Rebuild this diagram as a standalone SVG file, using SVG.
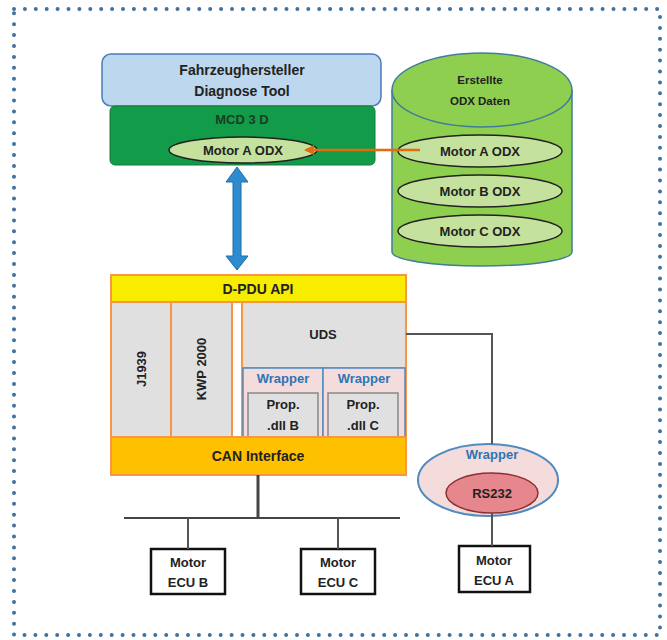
<svg xmlns="http://www.w3.org/2000/svg" width="667" height="640" viewBox="0 0 667 640">
<defs>
<style>
text{font-family:"Liberation Sans",Arial,sans-serif;font-weight:bold;fill:#222;text-anchor:middle}
.t14{font-size:14px}
.t13{font-size:13px}
.t12{font-size:12px}
.t11{font-size:11.5px}
.blue{fill:#2e75b6}
.col{fill:#e0e0e0;stroke:#f79646;stroke-width:2}
.ell{fill:#c4e29e;stroke:#222;stroke-width:1.5}
.wrap{fill:#f4dcdc;stroke:#4f8ac0;stroke-width:1.5}
.prop{fill:#e0e0e0;stroke:#888;stroke-width:1.5}
.ecu{fill:#fff;stroke:#111;stroke-width:2.5}
.line{stroke:#555;stroke-width:2;fill:none}
</style>
<marker id="oarr" markerWidth="10" markerHeight="10" refX="8" refY="5" orient="auto" markerUnits="userSpaceOnUse"><path d="M0,0 L10,5 L0,10 Z" fill="#e46c0a"/></marker>
</defs>
<rect x="14" y="9" width="646" height="626" fill="none" stroke="#41719c" stroke-width="4" stroke-linecap="round" stroke-dasharray="0 10.9"/>

<g id="diag-tool">
<rect x="102" y="54" width="279" height="52" rx="9" fill="#bdd7ee" stroke="#4a7ebb" stroke-width="1.5"/>
<text class="t14" x="242" y="75">Fahrzeughersteller</text>
<text class="t14" x="242" y="96">Diagnose Tool</text>
</g>
<g id="mcd3d">
<rect x="110" y="106" width="265" height="59" rx="5" fill="#129b48" stroke="#177a3c" stroke-width="1"/>
<text class="t13" x="242" y="124" style="fill:#1b3d22">MCD 3 D</text>
<ellipse class="ell" cx="243" cy="150" rx="74" ry="13"/>
<text class="t13" x="243" y="155">Motor A ODX</text>
</g>

<g id="odx-db">
<path d="M392,90 L392,252 A90,14 0 0 0 572,252 L572,90" fill="#8fcf4f" stroke="#3f7d9a" stroke-width="1.5"/>
<ellipse cx="482" cy="90" rx="90" ry="37" fill="#8fcf4f" stroke="#3f7d9a" stroke-width="1.5"/>
<text class="t11" x="480" y="84">Erstellte</text>
<text class="t11" x="480" y="105">ODX Daten</text>
<ellipse class="ell" cx="480" cy="151" rx="82" ry="16"/>
<text class="t13" x="480" y="156">Motor A ODX</text>
<ellipse class="ell" cx="480" cy="191" rx="82" ry="16"/>
<text class="t13" x="480" y="196">Motor B ODX</text>
<ellipse class="ell" cx="480" cy="231" rx="82" ry="16"/>
<text class="t13" x="480" y="236">Motor C ODX</text>
</g>

<g id="dpdu">
<rect x="111" y="275" width="295" height="200" fill="#fff" stroke="#f79646" stroke-width="2"/>
<rect x="111" y="275" width="295" height="27" fill="#f8ec00" stroke="#f79646" stroke-width="2"/>
<text class="t14" x="258" y="294">D-PDU API</text>
<rect class="col" x="111" y="302" width="60" height="135"/>
<text class="t13" transform="translate(146,369) rotate(-90)">J1939</text>
<rect class="col" x="171" y="302" width="61" height="135"/>
<text class="t13" transform="translate(206,369) rotate(-90)">KWP 2000</text>
<rect x="232" y="302" width="10" height="135" fill="#fff" stroke="#f79646" stroke-width="2"/>
<rect class="col" x="242" y="302" width="164" height="66"/>
<text class="t13" x="323" y="339">UDS</text>
<rect class="wrap" x="243" y="368" width="80" height="69"/>
<text class="t13 blue" x="283" y="383">Wrapper</text>
<rect class="prop" x="248" y="393" width="70" height="44"/>
<text class="t13" x="283" y="409">Prop.</text>
<text class="t13" x="283" y="430">.dll B</text>
<rect class="wrap" x="323" y="368" width="82" height="69"/>
<text class="t13 blue" x="364" y="383">Wrapper</text>
<rect class="prop" x="328" y="393" width="70" height="44"/>
<text class="t13" x="363" y="409">Prop.</text>
<text class="t13" x="363" y="430">.dll C</text>
<rect x="111" y="437" width="295" height="38" fill="#ffc000" stroke="#f79646" stroke-width="2"/>
<text class="t14" x="258" y="461">CAN Interface</text>
</g>

<g id="wrapper-rs232">
<ellipse cx="488" cy="480" rx="70" ry="36" fill="#f4dcdc" stroke="#4f8ac0" stroke-width="2"/>
<text class="t13 blue" x="492" y="459">Wrapper</text>
<ellipse cx="492" cy="493" rx="46" ry="20" fill="#e5878c" stroke="#8c2f33" stroke-width="1.5"/>
<text class="t13" x="492" y="498">RS232</text>
</g>

<g id="ecu-a">
<rect class="ecu" x="459" y="546" width="71" height="46"/>
<text class="t13" x="494" y="565">Motor</text>
<text class="t13" x="494" y="585">ECU A</text>
</g>
<g id="ecu-b">
<rect class="ecu" x="151" y="549" width="74" height="45"/>
<text class="t13" x="188" y="567">Motor</text>
<text class="t13" x="188" y="587">ECU B</text>
</g>
<g id="ecu-c">
<rect class="ecu" x="301" y="549" width="74" height="45"/>
<text class="t13" x="338" y="567">Motor</text>
<text class="t13" x="338" y="587">ECU C</text>
</g>

<g id="connectors">
<line x1="420" y1="150" x2="306" y2="150" stroke="#e46c0a" stroke-width="2.5" marker-end="url(#oarr)"/>
<path d="M237,167 L248,182 L241,182 L241,256 L248,256 L237,270 L226,256 L233,256 L233,182 L226,182 Z" fill="#2e8bd0" stroke="#1f6fa8" stroke-width="1"/>
<path class="line" d="M406,334 L492,334 L492,444" stroke="#888"/>
<line class="line" x1="492" y1="513" x2="492" y2="546"/>
<line x1="258" y1="475" x2="258" y2="518" stroke="#444" stroke-width="3"/>
<line x1="124" y1="518" x2="400" y2="518" stroke="#444" stroke-width="2"/>
<line class="line" x1="188" y1="518" x2="188" y2="549"/>
<line class="line" x1="338" y1="518" x2="338" y2="549"/>
</g>
</svg>
